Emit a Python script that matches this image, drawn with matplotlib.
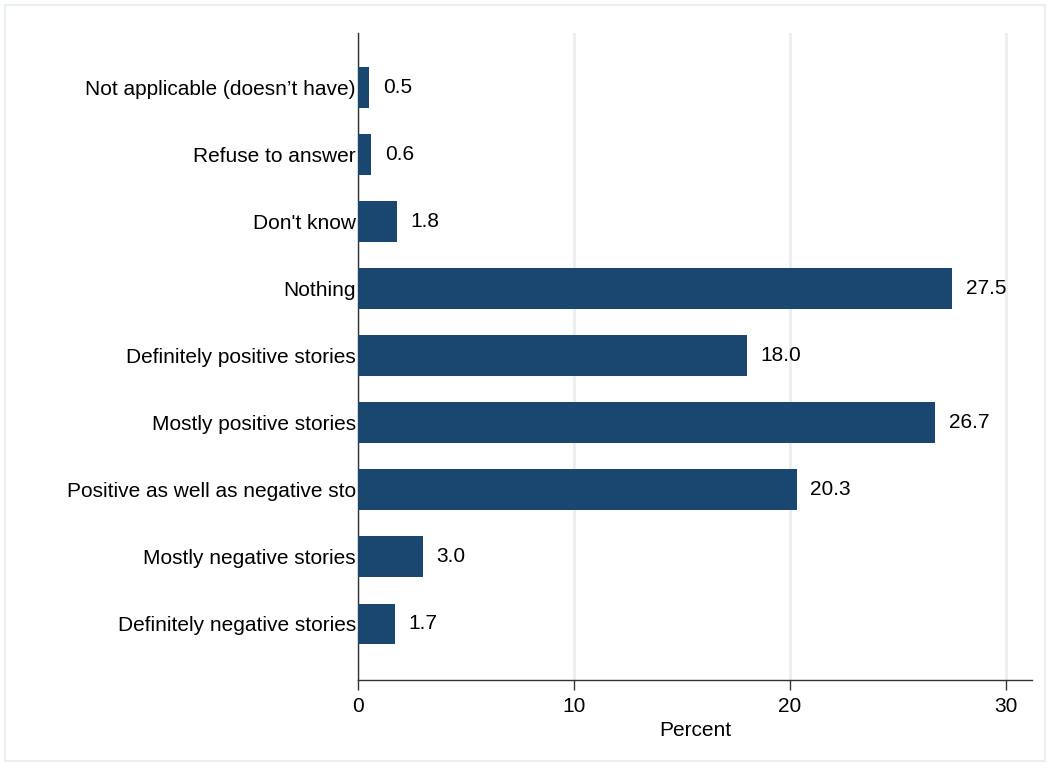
import matplotlib
matplotlib.use("Agg")
import matplotlib.pyplot as plt
from matplotlib.patches import Rectangle

categories = ["Definitely negative stories", "Mostly negative stories",
              "Positive as well as negative sto", "Mostly positive stories",
              "Definitely positive stories", "Nothing", "Don't know",
              "Refuse to answer", "Not applicable (doesn\u2019t have)"]
values = [1.7, 3.0, 20.3, 26.7, 18.0, 27.5, 1.8, 0.6, 0.5]
xticks = [0, 10, 20, 30]

plt.rcParams['font.family'] = ['Liberation Sans', 'DejaVu Sans']
BAR = '#1a476f'
FS = 15
W, H = 1051, 769
fig = plt.figure(figsize=(W/100, H/100), dpi=100)
fig.patches.append(Rectangle((5/W, 8/H), 1040/W, 756/H, transform=fig.transFigure,
                             fill=False, edgecolor='#eaf0f2', lw=1.5))
ax = fig.add_axes([358/W, 1-680/H, (1032-358)/W, (680-33)/H])
ypos = list(range(len(categories)))
ax.barh(ypos, values, height=0.61, color=BAR, zorder=3)
for y, v in zip(ypos, values):
    ax.annotate(f"{v:.1f}", (v, y), xytext=(10, 0), textcoords='offset points',
                va='center', ha='left', fontsize=FS, color='black')
ax.set_xlim(0, 31.2)
ax.set_ylim(-0.835, 8.81)
ax.set_yticks(ypos)
ax.set_yticklabels(categories, fontsize=FS)
ax.tick_params(axis='y', length=0, pad=1.5)
ax.set_xticks(xticks)
ax.set_xticklabels([str(t) for t in xticks], fontsize=FS)
ax.tick_params(axis='x', length=7, width=1, color='#333333', pad=5)
ax.grid(axis='x', color='#e9eef1', lw=2, zorder=0)
ax.set_xlabel('Percent', fontsize=FS, labelpad=4)
for s in ['top', 'right']:
    ax.spines[s].set_visible(False)
for s in ['left', 'bottom']:
    ax.spines[s].set_color('#333333')
    ax.spines[s].set_linewidth(1)
fig.savefig('out.png', dpi=100)
